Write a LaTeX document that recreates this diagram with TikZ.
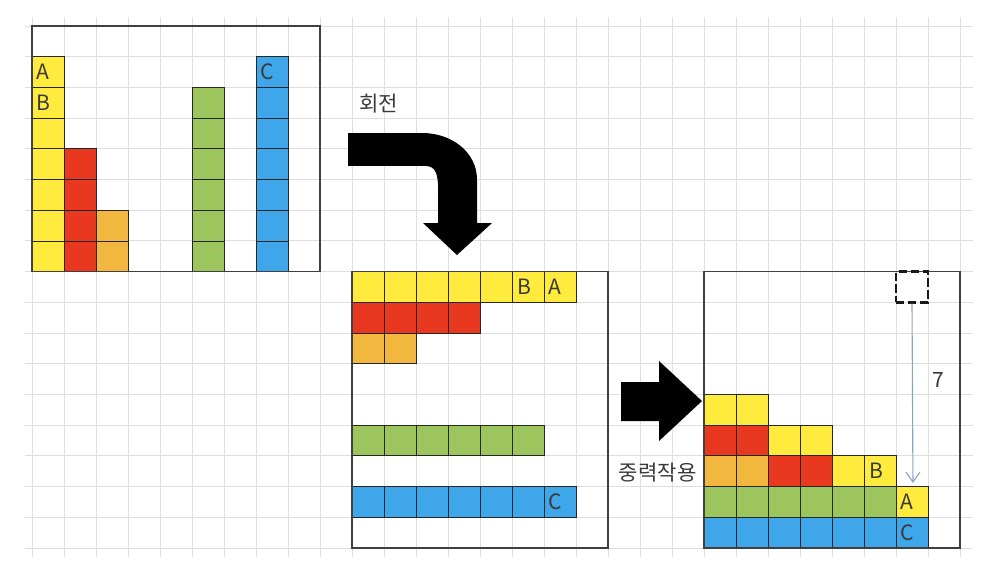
\documentclass[tikz,border=0pt]{standalone}
\usepackage{fontspec}
\setmainfont{Noto Sans CJK KR}
\usetikzlibrary{arrows.meta}
\definecolor{ylw}{HTML}{FFEA3E}
\definecolor{rd}{HTML}{E8381F}
\definecolor{org}{HTML}{F2B73E}
\definecolor{grn}{HTML}{9CC55E}
\definecolor{blu}{HTML}{3FA6EA}
\definecolor{gridgray}{HTML}{DEDEDE}
\definecolor{ink}{HTML}{3A3A3A}
\definecolor{dropline}{HTML}{8AA4C8}
\begin{document}
\begin{tikzpicture}[x=0.8cm,y=-0.76765cm,
    cellbox/.style={draw=black!85,line width=0.6pt},
    framebox/.style={draw=black!75,line width=1pt},
    label/.style={font=\fontsize{15pt}{18pt}\selectfont,text=ink,inner sep=0pt},
    letter/.style={label,anchor=west}]
  \useasboundingbox (-1,-0.8467) rectangle (30.25,18.2375);

  % background grid
  \foreach \i in {0,...,29}
    \draw[gridgray,line width=0.7pt] (\i,-0.29) -- (\i,17.29);
  \foreach \j in {0,...,17}
    \draw[gridgray,line width=0.7pt] (-0.22,\j) -- (29.4,\j);

  % before rotation
  \foreach \r in {1,...,7} \draw[cellbox,fill=ylw] (0,\r) rectangle ++(1,1);
  \foreach \r in {4,...,7} \draw[cellbox,fill=rd] (1,\r) rectangle ++(1,1);
  \foreach \r in {6,7} \draw[cellbox,fill=org] (2,\r) rectangle ++(1,1);
  \foreach \r in {2,...,7} \draw[cellbox,fill=grn] (5,\r) rectangle ++(1,1);
  \foreach \r in {1,...,7} \draw[cellbox,fill=blu] (7,\r) rectangle ++(1,1);
  \draw[framebox] (0,0) rectangle (9,8);
  \node[letter] (a1) at (0.12,1.5) {A};
  \node[letter] (b1) at (0.12,2.5) {B};
  \node[letter] (c1) at (7.12,1.5) {C};

  % after rotation
  \begin{scope}[shift={(10,8)}]
    \foreach \c in {0,...,6} \draw[cellbox,fill=ylw] (\c,0) rectangle ++(1,1);
    \foreach \c in {0,...,3} \draw[cellbox,fill=rd] (\c,1) rectangle ++(1,1);
    \foreach \c in {0,1} \draw[cellbox,fill=org] (\c,2) rectangle ++(1,1);
    \foreach \c in {0,...,5} \draw[cellbox,fill=grn] (\c,5) rectangle ++(1,1);
    \foreach \c in {0,...,6} \draw[cellbox,fill=blu] (\c,7) rectangle ++(1,1);
    \draw[framebox] (0,0) rectangle (8,9);
    \node[letter] (b2) at (5.15,0.5) {B};
    \node[letter] (a2) at (6.12,0.5) {A};
    \node[letter] (c2) at (6.12,7.5) {C};
  \end{scope}

  % after gravity
  \begin{scope}[shift={(21,8)}]
    \foreach \c/\r in {0/4,1/4,2/5,3/5,4/6,5/6,6/7}
      \draw[cellbox,fill=ylw] (\c,\r) rectangle ++(1,1);
    \foreach \c/\r in {0/5,1/5,2/6,3/6}
      \draw[cellbox,fill=rd] (\c,\r) rectangle ++(1,1);
    \foreach \c in {0,1} \draw[cellbox,fill=org] (\c,6) rectangle ++(1,1);
    \foreach \c in {0,...,5} \draw[cellbox,fill=grn] (\c,7) rectangle ++(1,1);
    \foreach \c in {0,...,6} \draw[cellbox,fill=blu] (\c,8) rectangle ++(1,1);
    \draw[framebox] (0,0) rectangle (8,9);
    \node[letter] (b3) at (5.15,6.5) {B};
    \node[letter] (a3) at (6.12,7.5) {A};
    \node[letter] (c3) at (6.12,8.5) {C};
    \node[draw=black!90,line width=1.8pt,dash pattern=on 6pt off 2.5pt,
      minimum width=0.8cm,minimum height=0.76765cm,inner sep=0pt] (ghost) at (6.5,0.5) {};
    \coordinate (land) at (6.53,6.88);
  \end{scope}
  \draw[dropline,line width=0.8pt,-{Straight Barb[length=7pt,width=10pt]}] (ghost.south) -- (land);
  \node[label] (seven) at (28.31,11.53) {7};

  % big arrows
  \fill[black] (9.875,3.485) -- (12.2,3.485)
    .. controls (13.1,3.485) and (13.906,4.1) .. (13.906,5.0)
    -- (13.906,6.416) -- (14.375,6.416) -- (13.28,7.458) -- (12.22,6.416)
    -- (12.69,6.416) -- (12.69,5.3)
    .. controls (12.69,4.8) and (12.6,4.559) .. (12.3,4.559)
    -- (9.875,4.559) -- cycle;
  \fill[black] (18.406,11.594) -- (19.594,11.594) -- (19.594,10.91)
    -- (20.9375,12.213) -- (19.594,13.515) -- (19.594,12.864)
    -- (18.406,12.864) -- cycle;
  \node[label] (rot) at (10.83,2.54) {회전};
  \node[label] (grav) at (19.55,14.54) {중력작용};
\end{tikzpicture}
\end{document}
